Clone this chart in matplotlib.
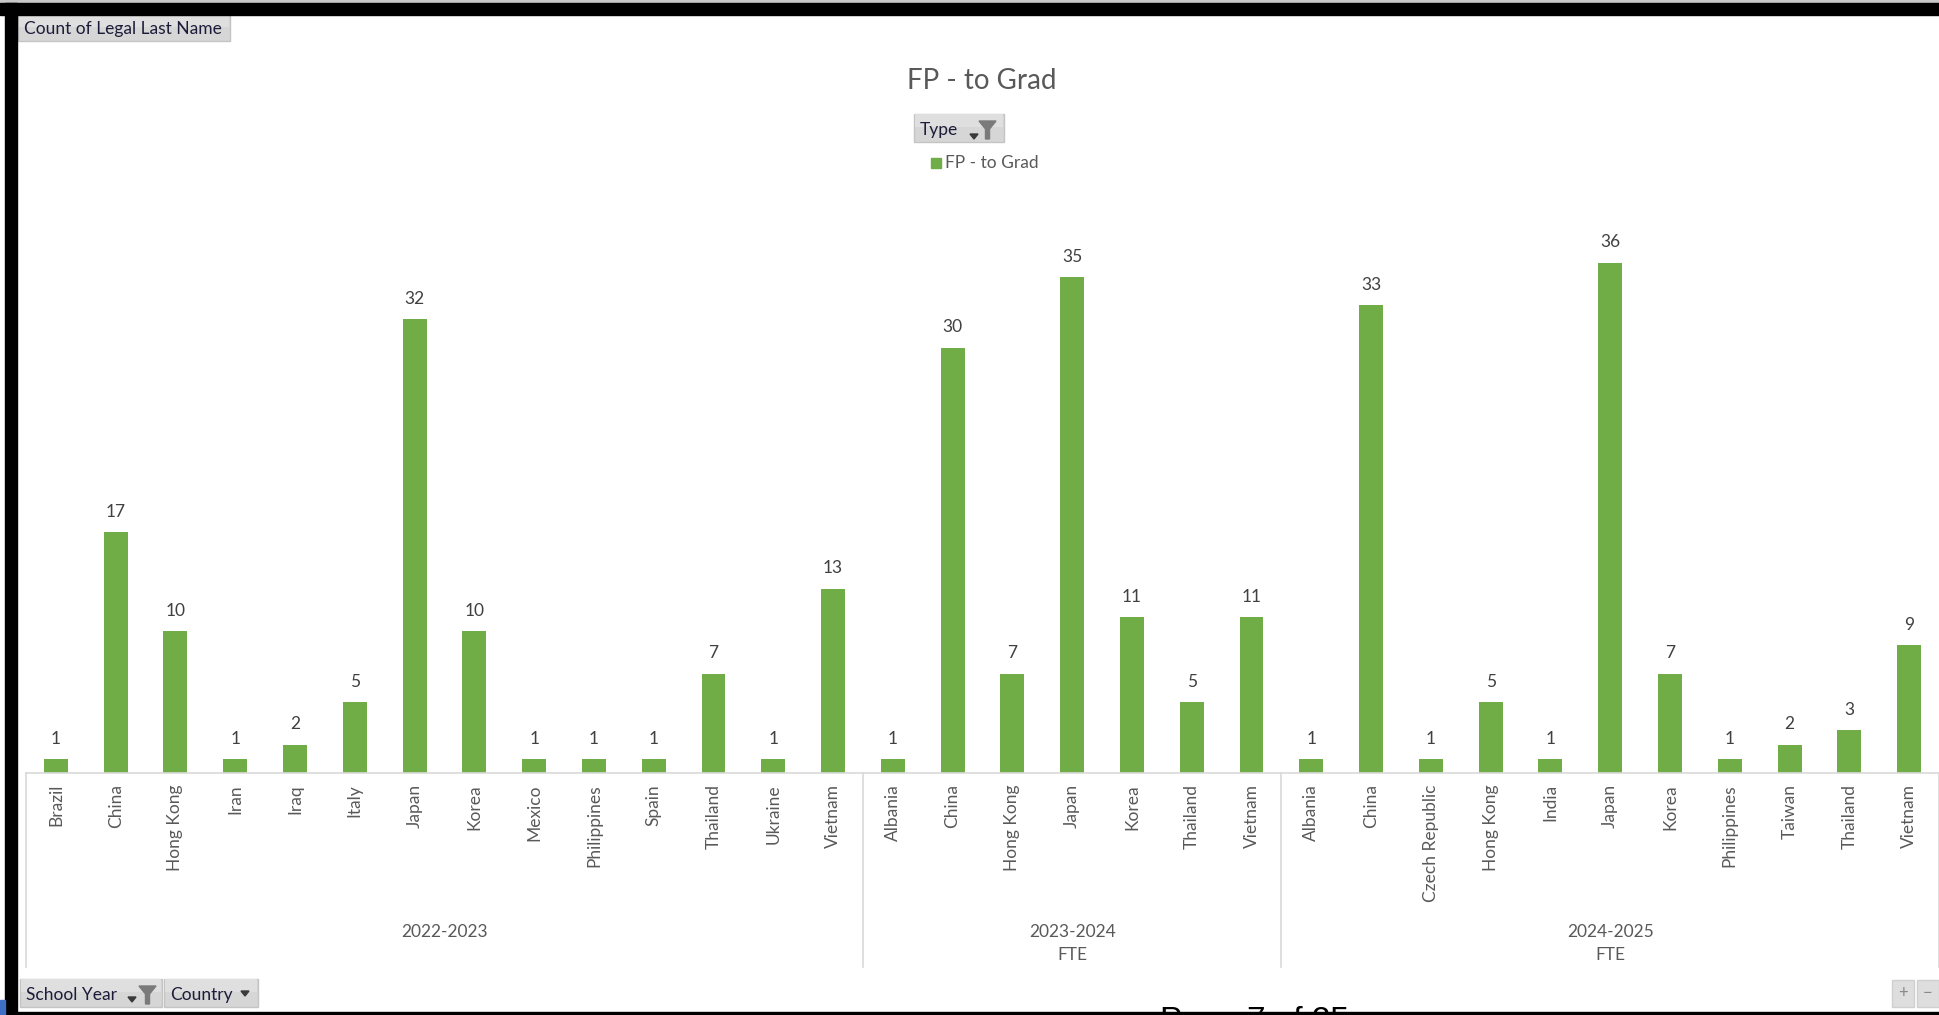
import matplotlib

matplotlib.use("Agg")
import matplotlib.pyplot as plt
import matplotlib.transforms as mtransforms
from matplotlib.patches import Rectangle, Polygon
import numpy as np

# counts of students per country, grouped by school year
years = ["2022-2023", "2023-2024", "2024-2025"]
year_notes = ["", "FTE", "FTE"]

countries_2223 = ["Brazil", "China", "Hong Kong", "Iran", "Iraq", "Italy", "Japan",
                  "Korea", "Mexico", "Philippines", "Spain", "Thailand", "Ukraine", "Vietnam"]
counts_2223 = [1, 17, 10, 1, 2, 5, 32, 10, 1, 1, 1, 7, 1, 13]

countries_2324 = ["Albania", "China", "Hong Kong", "Japan", "Korea", "Thailand", "Vietnam"]
counts_2324 = [1, 30, 7, 35, 11, 5, 11]

countries_2425 = ["Albania", "China", "Czech Republic", "Hong Kong", "India", "Japan",
                  "Korea", "Philippines", "Taiwan", "Thailand", "Vietnam"]
counts_2425 = [1, 33, 1, 5, 1, 36, 7, 1, 2, 3, 9]

groups = [countries_2223, countries_2324, countries_2425]
group_counts = [counts_2223, counts_2324, counts_2425]

labels = [c for g in groups for c in g]
values = [v for g in group_counts for v in g]

W, H = 1939, 1015
GREEN = "#70AD47"
GRID = "#d9d9d9"
TXT = "#595959"

plt.rcParams["font.family"] = ["Lato", "DejaVu Sans"]

fig = plt.figure(figsize=(W / 100, H / 100), dpi=100)
fig.patch.set_facecolor("white")


def fx(x):
    return x / W


def fy(y):
    return 1 - y / H


def pts(seq):
    return [(fx(x), fy(y)) for x, y in seq]


# plot area: baseline at y=773 px, 40 units tall
base_px, top_px = 773, 206
ax = fig.add_axes([fx(26), fy(base_px), 1 - fx(26), (base_px - top_px) / H])
x = np.arange(len(values))
bars = ax.bar(x, values, width=0.4, color=GREEN, zorder=2)
ax.set_xlim(-0.5, len(values) - 0.5)
ax.set_ylim(0, 40)
for s in ("top", "left", "right"):
    ax.spines[s].set_visible(False)
ax.spines["bottom"].set_color(GRID)
ax.spines["bottom"].set_linewidth(1.2)
ax.set_yticks([])
ax.set_xticks(x, labels, rotation=90, va="top", ha="center",
              fontsize=12.5, color=TXT)
ax.tick_params(axis="x", length=0, pad=8)
ax.patch.set_alpha(0)

for xi, v in zip(x, values):
    ax.annotate(str(v), (xi, v), xytext=(0, 11), textcoords="offset points",
                ha="center", va="baseline", fontsize=12.5, color="#404040")

# year group separators and labels under the category axis
blend = mtransforms.blended_transform_factory(ax.transData, fig.transFigure)
sizes = [len(g) for g in groups]
edges = np.concatenate([[0], np.cumsum(sizes)]) - 0.5
for e in edges:
    fig.add_artist(plt.Line2D([e, e], [fy(base_px), fy(967)], transform=blend,
                              color=GRID, lw=1.2))
for i, (yr, note) in enumerate(zip(years, year_notes)):
    cx = (edges[i] + edges[i + 1]) / 2
    fig.text(cx, fy(937), yr, transform=blend, ha="center", va="baseline",
             fontsize=12.5, color=TXT)
    if note:
        fig.text(cx, fy(960), note, transform=blend, ha="center", va="baseline",
                 fontsize=12.5, color=TXT)

# title and legend
fig.text(fx(982), fy(89), "FP - to Grad", ha="center", va="baseline",
         fontsize=20, color=TXT)
fig.add_artist(Rectangle((fx(931), fy(168)), fx(10), 10 / H, color=GREEN))
fig.text(fx(945), fy(168), "FP - to Grad", ha="left", va="baseline",
         fontsize=12.5, color=TXT)


def button(x0, y0, x1, y1, text, tx, size=12.5):
    fig.add_artist(Rectangle((fx(x0), fy(y1)), fx(x1 - x0), (y1 - y0) / H,
                             facecolor="#d6d6d6", edgecolor="#c4c4c4", lw=1))
    fig.add_artist(Rectangle((fx(x0 + 1), fy(y0 + (y1 - y0) * 0.45)), fx(x1 - x0 - 2),
                             (y1 - y0) * 0.45 / H, facecolor="#dfdfdf", lw=0))
    fig.text(fx(tx), fy(y1 - 7), text, ha="left", va="baseline",
             fontsize=size, color="#1c1c3a")


def arrow(cx, cy):
    fig.add_artist(Polygon(pts([(cx - 4, cy - 2), (cx + 4, cy - 2), (cx, cy + 3)]),
                           closed=True, color="#3a3a3a"))


def funnel(x0, y0):
    fig.add_artist(Polygon(pts([(x0, y0), (x0 + 17, y0), (x0 + 10.5, y0 + 8),
                                (x0 + 10.5, y0 + 18), (x0 + 6.5, y0 + 18),
                                (x0 + 6.5, y0 + 8)]), closed=True, color="#7a7a7a"))


button(18, 15, 230, 41, "Count of Legal Last Name", 24)
button(914, 114, 1004, 142, "Type", 920)
arrow(974, 136)
funnel(979, 121)
button(20, 979, 162, 1007, "School Year", 26)
arrow(132, 999)
funnel(139, 986)
button(164, 979, 258, 1007, "Country", 170)
arrow(245, 993)

# zoom buttons at the bottom right
for x0, x1, sym in [(1892, 1914, "+"), (1917, 1939, "\u2212")]:
    fig.add_artist(Rectangle((fx(x0), fy(1007)), fx(x1 - x0), 27 / H,
                             facecolor="#dedede", edgecolor="#cfcfcf", lw=1))
    fig.text(fx((x0 + x1) / 2), fy(993), sym, ha="center", va="center",
             fontsize=12, color="#8a8a8a")

# page footer text running off the bottom
fig.text(fx(1160), fy(1006), "Page 7 of 25", ha="left", va="top",
         fontsize=24, color="black", family="Liberation Sans")

# window frame
fig.add_artist(Rectangle((0, fy(3)), 1, 3 / H, color="#c8c8c8"))
fig.add_artist(Rectangle((0, fy(15)), 1, 12 / H, color="black"))
fig.add_artist(Rectangle((fx(5), 0), fx(12), fy(3), color="black"))
fig.add_artist(Rectangle((0, 0), 1, 3 / H, color="black"))
fig.add_artist(Rectangle((0, 0), fx(5), 15 / H, color="#3d6fc4"))

fig.savefig("out.png", dpi=100)
